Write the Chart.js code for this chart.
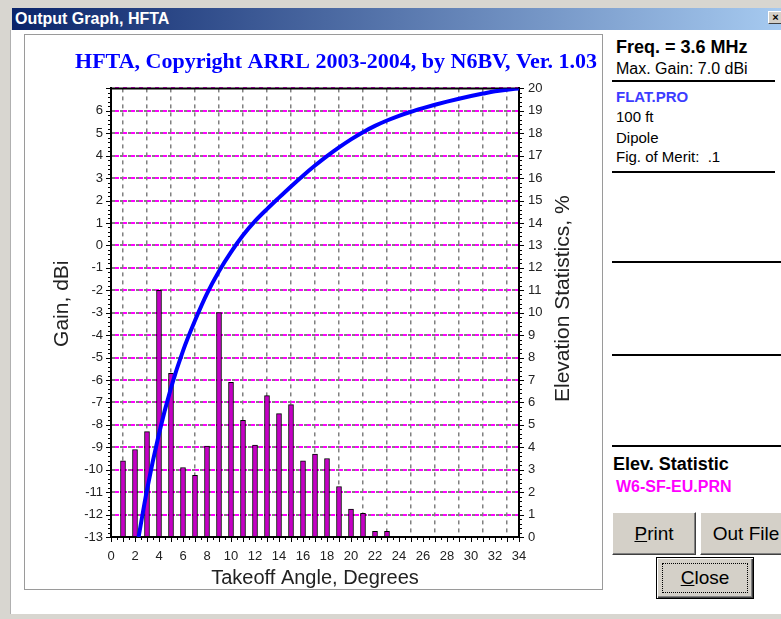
<!DOCTYPE html>
<html>
<head>
<meta charset="utf-8">
<script src="https://cdn.jsdelivr.net/npm/chart.js@4"></script>
<style>
  html, body { margin: 0; padding: 0; }
  body { width: 781px; height: 619px; overflow: hidden; background: #d8d6d0; position: relative; font-family: 'Liberation Sans', Arial, sans-serif; }
  .abs { position: absolute; }
  #client { left: 10px; top: 30px; width: 771px; height: 584px; background: #fff; border-left: 1px solid #b0b0b0; box-sizing: border-box; }
  #titlebar { left: 12px; top: 8px; width: 769px; height: 22px; background: linear-gradient(to right, #0a246a, #a6caf0); }
  #titletext { left: 15px; top: 10px; color: #fff; font: bold 16px 'Liberation Sans'; line-height: 18px; }
  #xbtn { left: 768px; top: 11px; width: 15px; height: 13px; background: #d4d0c8; border-top: 1px solid #fff; border-left: 1px solid #fff; border-right: 1px solid #404040; border-bottom: 1px solid #404040; box-sizing: border-box; font: bold 11px 'Liberation Sans'; line-height: 11px; text-align: center; color: #000; }
  #panel { left: 24px; top: 34px; width: 579px; height: 556px; border: 1px solid #9a9a9a; box-sizing: border-box; }
  #c { left: 25px; top: 35px; }
  .t { position: absolute; white-space: pre; color: #000; }
  .rule { position: absolute; height: 2px; background: #000; }
  .btn { position: absolute; background: #d4d0c8; box-sizing: border-box; border-top: 1px solid #fff; border-left: 1px solid #fff; border-right: 1px solid #404040; border-bottom: 1px solid #404040; box-shadow: inset -1px -1px #808080; font: 19px 'Liberation Sans'; color: #000; display: flex; align-items: center; justify-content: center; }
  .u { text-decoration: underline; }
</style>
</head>
<body>
<div id="client" class="abs"></div>
<div id="titlebar" class="abs"></div>
<div id="titletext" class="abs">Output Graph, HFTA</div>
<div id="xbtn" class="abs">×</div>
<div id="panel" class="abs"></div>
<canvas id="c" class="abs" width="577" height="555" style="width:577px;height:555px"></canvas>

<div class="t" style="left:616px;top:38px;font:bold 18px 'Liberation Sans';line-height:18px">Freq. = 3.6 MHz</div>
<div class="t" style="left:616px;top:61px;font:16px 'Liberation Sans';line-height:16px">Max. Gain: 7.0 dBi</div>
<div class="rule" style="left:612px;top:80px;width:163px"></div>
<div class="t" style="left:616px;top:89px;font:bold 15px 'Liberation Sans';line-height:15px;color:#3c3cff">FLAT.PRO</div>
<div class="t" style="left:616px;top:109px;font:15px 'Liberation Sans';line-height:15px">100 ft</div>
<div class="t" style="left:616px;top:130px;font:15px 'Liberation Sans';line-height:15px">Dipole</div>
<div class="t" style="left:616px;top:149px;font:15px 'Liberation Sans';line-height:15px">Fig. of Merit:  .1</div>
<div class="rule" style="left:612px;top:171px;width:163px"></div>
<div class="rule" style="left:612px;top:261px;width:169px"></div>
<div class="rule" style="left:612px;top:354px;width:169px"></div>
<div class="rule" style="left:612px;top:445px;width:169px"></div>
<div class="t" style="left:613px;top:455px;font:bold 18px 'Liberation Sans';line-height:18px">Elev. Statistic</div>
<div class="t" style="left:616px;top:479px;font:bold 16px 'Liberation Sans';line-height:16px;color:#ff00ff">W6-SF-EU.PRN</div>
<div class="btn" style="left:612px;top:512px;width:84px;height:43px"><span><span class="u">P</span>rint</span></div>
<div class="btn" style="left:700px;top:512px;width:92px;height:43px">Out File</div>
<div class="btn" style="left:656px;top:557px;width:98px;height:42px;border:1px solid #000;box-shadow:inset 1px 1px #fff, inset -1px -1px #404040, inset -2px -2px #808080">
  <span style="position:absolute;left:5px;top:5px;right:5px;bottom:5px;border:1px dotted #000"></span><span><span class="u">C</span>lose</span>
</div>

<script>
// elevation statistics bars (% of openings at each takeoff angle)
const angles = [1, 2, 3, 4, 5, 6, 7, 8, 9, 10, 11, 12, 13, 14, 15, 16, 17, 18, 19, 20, 21, 22, 23];
const elevPct = [3.4, 3.9, 4.7, 11.0, 7.3, 3.1, 2.75, 4.05, 10.0, 6.9, 5.2, 4.1, 6.3, 5.5, 5.9, 3.4, 3.7, 3.5, 2.25, 1.25, 1.05, 0.25, 0.25];

// antenna gain curve
const gainAngles = [2.3, 3, 4, 5, 6, 7, 8, 9, 10, 11, 12, 13, 14, 15, 16, 17, 18, 19, 20, 21, 22, 23, 24, 25, 26, 27, 28, 29, 30, 31, 32, 33, 34];
const gainDbi = [-13.0, -10.9, -8.4, -6.35, -4.7, -3.35, -2.15, -1.15, -0.3, 0.45, 1.08, 1.62, 2.13, 2.63, 3.11, 3.56, 3.98, 4.37, 4.73, 5.05, 5.33, 5.57, 5.78, 5.96, 6.12, 6.27, 6.41, 6.54, 6.66, 6.77, 6.87, 6.94, 7.0];

const angleTicks = [0, 2, 4, 6, 8, 10, 12, 14, 16, 18, 20, 22, 24, 26, 28, 30, 32, 34];
const gainTicks = [-13, -12, -11, -10, -9, -8, -7, -6, -5, -4, -3, -2, -1, 0, 1, 2, 3, 4, 5, 6];
const pctTicks = [0, 1, 2, 3, 4, 5, 6, 7, 8, 9, 10, 11, 12, 13, 14, 15, 16, 17, 18, 19, 20];

const chartTitle = 'HFTA, Copyright ARRL 2003-2004, by N6BV, Ver. 1.03';
const gainTitle = 'Gain, dBi';
const pctTitle = 'Elevation Statistics, %';
const angleTitle = 'Takeoff Angle, Degrees';

Chart.defaults.font.family = "'Liberation Sans', Arial, sans-serif";

// frame on top, minor ticks, and the two rotated y axis titles
const extras = {
  id: 'extras',
  beforeDatasetsDraw(chart) {
    const { ctx, chartArea: a, scales } = chart;
    ctx.save();
    ctx.strokeStyle = '#000';
    ctx.lineWidth = 1;
    ctx.beginPath();
    for (let i = 0; i <= 68; i++) {
      const x = Math.round(scales.x.getPixelForValue(i / 2)) + 0.5;
      ctx.moveTo(x, a.bottom);
      ctx.lineTo(x, a.bottom + (i % 2 === 0 ? 5 : 3));
    }
    for (let i = 0; i <= 100; i++) {
      const y = Math.round(scales.yGain.getPixelForValue(-13 + i / 5)) + 0.5;
      ctx.moveTo(a.left, y);
      ctx.lineTo(a.left - (i % 5 === 0 ? 5 : 3), y);
      const y2 = Math.round(scales.yPct.getPixelForValue(i / 5)) + 0.5;
      ctx.moveTo(a.right, y2);
      ctx.lineTo(a.right + (i % 5 === 0 ? 5 : 3), y2);
    }
    ctx.stroke();
    ctx.lineWidth = 2;
    ctx.beginPath();
    ctx.moveTo(a.left - 1, a.top);
    ctx.lineTo(a.right + 1, a.top);
    ctx.stroke();

    ctx.fillStyle = '#222';
    ctx.font = "21px 'Liberation Sans'";
    ctx.textAlign = 'center';
    ctx.textBaseline = 'middle';
    const cy = (a.top + a.bottom) / 2 - 9;
    ctx.translate(37, cy);
    ctx.rotate(-Math.PI / 2);
    ctx.fillText(gainTitle, 0, 0);
    ctx.setTransform(1, 0, 0, 1, 0, 0);
    ctx.translate(538, cy - 5);
    ctx.rotate(-Math.PI / 2);
    ctx.fillText(pctTitle, 0, 0);
    ctx.restore();
  }
};

const tickFont = { size: 13 };

new Chart(document.getElementById('c'), {
  type: 'line',
  data: {
    datasets: [
      {
        type: 'line',
        data: gainAngles.map((a, i) => ({ x: a, y: gainDbi[i] })),
        yAxisID: 'yGain',
        borderColor: '#0000ff',
        borderWidth: 4,
        pointRadius: 0,
        cubicInterpolationMode: 'monotone',
        order: 0
      },
      {
        type: 'bar',
        data: angles.map((a, i) => ({ x: a, y: elevPct[i] })),
        yAxisID: 'yPct',
        backgroundColor: '#c400c4',
        borderColor: '#000',
        borderWidth: 1,
        barThickness: 5,
        order: 1
      }
    ]
  },
  options: {
    responsive: false,
    animation: false,
    layout: { padding: { right: 5 } },
    plugins: {
      legend: { display: false },
      tooltip: { enabled: false },
      title: {
        display: true,
        text: chartTitle,
        align: 'end',
        color: '#0000ff',
        font: { family: "'Liberation Serif', 'Times New Roman', serif", size: 22, weight: 'bold' },
        padding: { top: 14, bottom: 13 }
      }
    },
    scales: {
      x: {
        type: 'linear',
        min: 0,
        max: 34,
        offset: false,
        afterBuildTicks: s => { s.ticks = angleTicks.map(v => ({ value: v })); },
        afterFit: s => { s.height = 53; },
        grid: { color: '#808080', lineWidth: 1.5, drawTicks: false },
        border: { color: '#000', width: 2, dash: [4, 4] },
        ticks: { color: '#222', font: tickFont, padding: 12, maxRotation: 0, autoSkip: false },
        title: { display: true, text: angleTitle, color: '#222', font: { size: 20 }, padding: { top: 0, bottom: 0 } }
      },
      yGain: {
        type: 'linear',
        position: 'left',
        min: -13,
        max: 7,
        afterBuildTicks: s => { s.ticks = gainTicks.map(v => ({ value: v })); },
        afterFit: s => { s.width = 86; },
        grid: { color: '#808080', lineWidth: 2, drawTicks: false },
        border: { color: '#000', width: 2, dash: [4, 4], dashOffset: 0 },
        ticks: { color: '#222', font: tickFont, padding: 8, autoSkip: false }
      },
      yPct: {
        type: 'linear',
        position: 'right',
        min: 0,
        max: 20,
        afterBuildTicks: s => { s.ticks = pctTicks.map(v => ({ value: v })); },
        afterFit: s => { s.width = 78; },
        grid: { color: '#ff00ff', lineWidth: 2, drawTicks: false },
        border: { color: '#000', width: 2, dash: [4, 4], dashOffset: 4 },
        ticks: { color: '#222', font: tickFont, padding: 9, autoSkip: false }
      }
    }
  },
  plugins: [extras]
});
</script>
</body>
</html>
